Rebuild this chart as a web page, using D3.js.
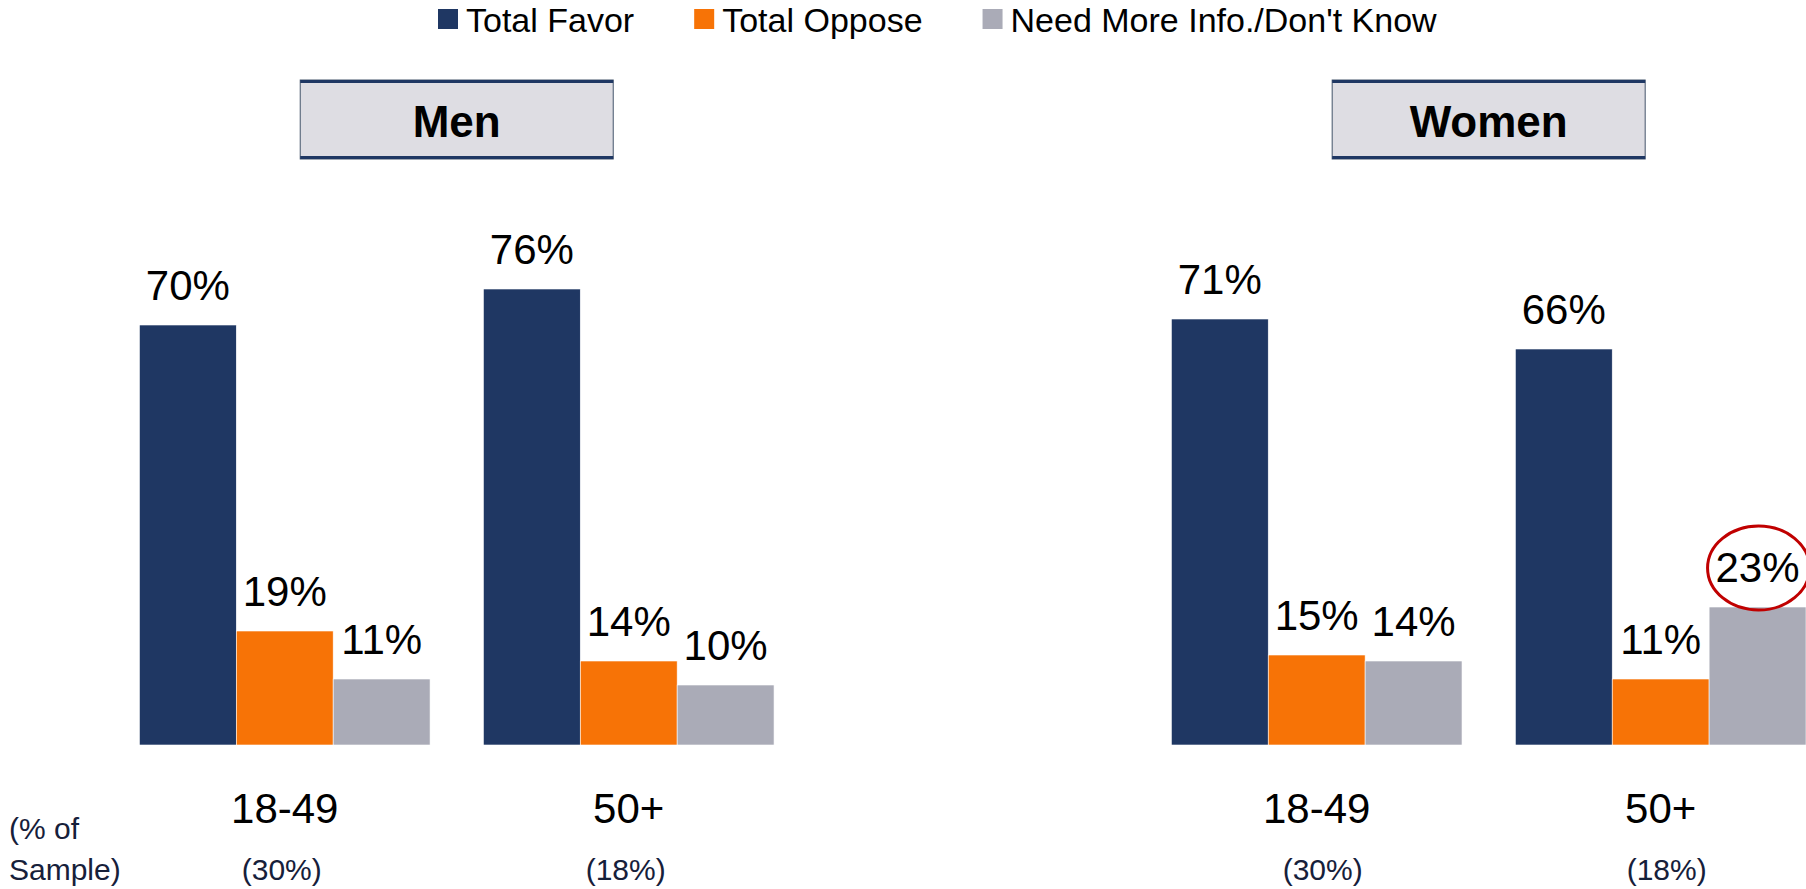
<!DOCTYPE html>
<html><head><meta charset="utf-8">
<script src="https://cdn.jsdelivr.net/npm/d3@7"></script>
<style>
body{margin:0;background:#fff}
svg{display:block}
text{font-family:"Liberation Sans",Arial,sans-serif}
</style>
</head><body>
<svg id="chart" width="1806" height="889"></svg>
<script>
// ---- data ----
const panels = ["Men", "Women"];
const ageGroups = ["18-49", "50+"];
const series = ["Total Favor", "Total Oppose", "Need More Info./Don't Know"];
const menFavor = [70, 76];
const menOppose = [19, 14];
const menDontKnow = [11, 10];
const womenFavor = [71, 66];
const womenOppose = [15, 11];
const womenDontKnow = [14, 23];
const menSample = ["(30%)", "(18%)"];
const womenSample = ["(30%)", "(18%)"];
const sampleNote = ["(% of", "Sample)"];
const highlight = {panel: "Women", age: "50+", series: "Need More Info./Don't Know"};

const colors = ["#1f3763", "#f77306", "#aaabb7"];

const valuesByPanel = {
  Men: [menFavor, menOppose, menDontKnow],
  Women: [womenFavor, womenOppose, womenDontKnow]
};
const sampleByPanel = {Men: menSample, Women: womenSample};

const rows = [];
panels.forEach(p => ageGroups.forEach((a, ai) => series.forEach((s, si) => {
  rows.push({panel: p, age: a, series: s, value: valuesByPanel[p][si][ai]});
})));

// ---- scales ----
const svg = d3.select("#chart");
const x0 = d3.scaleBand().domain(panels).range([139.4, 1806]).paddingInner(0.385).paddingOuter(0);
const x1 = d3.scaleBand().domain(ageGroups).range([0, x0.bandwidth()]).paddingInner(0.155).paddingOuter(0);
const x2 = d3.scaleBand().domain(series).range([0, x1.bandwidth()]).padding(0);
const y = d3.scaleLinear().domain([0, 100]).range([745, 145]);
const color = d3.scaleOrdinal().domain(series).range(colors);

// ---- legend ----
const legend = svg.append("g");
let lx = 438;
series.forEach(s => {
  const g = legend.append("g");
  g.append("rect").attr("x", lx).attr("y", 9).attr("width", 20).attr("height", 20).attr("fill", color(s));
  const t = g.append("text").attr("x", lx + 28).attr("y", 31.5).attr("font-size", 34).attr("fill", "#000").text(s);
  lx = lx + 28 + t.node().getComputedTextLength() + 60;
});

// ---- panel title boxes ----
panels.forEach(p => {
  const cx = x0(p) + x0.bandwidth() / 2;
  const bw = 313, top = 80, bh = 79;
  const g = svg.append("g");
  g.append("rect").attr("x", cx - bw / 2).attr("y", top).attr("width", bw).attr("height", bh)
    .attr("fill", "#dedde3").attr("stroke", "#44546a").attr("stroke-width", 1);
  g.append("rect").attr("x", cx - bw / 2).attr("y", top).attr("width", bw).attr("height", 3).attr("fill", "#1f3763");
  g.append("rect").attr("x", cx - bw / 2).attr("y", top + bh - 3).attr("width", bw).attr("height", 3).attr("fill", "#1f3763");
  g.append("text").attr("x", cx).attr("y", 137).attr("text-anchor", "middle")
    .attr("font-size", 44).attr("font-weight", "bold").attr("fill", "#000").text(p);
});

// ---- bars ----
const barX = d => x0(d.panel) + x1(d.age) + x2(d.series);
svg.append("g").selectAll("rect").data(rows).join("rect")
  .attr("x", barX)
  .attr("y", d => y(d.value))
  .attr("width", x2.bandwidth())
  .attr("height", d => y(0) - y(d.value))
  .attr("fill", d => color(d.series))
  .attr("stroke", "#ffffff").attr("stroke-width", 0.6);

// ---- value labels ----
svg.append("g").selectAll("text").data(rows).join("text")
  .attr("x", d => barX(d) + x2.bandwidth() / 2)
  .attr("y", d => y(d.value) - 25)
  .attr("text-anchor", "middle")
  .attr("font-size", 42)
  .attr("fill", "#000")
  .text(d => d.value + "%");

// ---- highlight ellipse ----
const hd = rows.find(d => d.panel === highlight.panel && d.age === highlight.age && d.series === highlight.series);
svg.append("ellipse")
  .attr("cx", barX(hd) + x2.bandwidth() / 2 + 1)
  .attr("cy", y(hd.value) - 25 - 14)
  .attr("rx", 51).attr("ry", 42)
  .attr("fill", "none").attr("stroke", "#c00000").attr("stroke-width", 3);

// ---- category axes ----
panels.forEach(p => {
  const axis = d3.axisBottom(x1).tickSize(0).tickPadding(48);
  const g = svg.append("g").attr("transform", `translate(${x0(p)},${y(0)})`).call(axis);
  g.select(".domain").remove();
  g.selectAll(".tick text").attr("font-size", 42).attr("fill", "#000")
    .attr("font-family", '"Liberation Sans",Arial,sans-serif');
  // sample share
  ageGroups.forEach((a, i) => {
    svg.append("text")
      .attr("x", x0(p) + x1(a) + x1.bandwidth() / 2 + (p === "Men" ? -3 : 6))
      .attr("y", 880)
      .attr("text-anchor", "middle")
      .attr("font-size", 30)
      .attr("fill", "#16203a")
      .text(sampleByPanel[p][i]);
  });
});

// ---- sample note ----
sampleNote.forEach((t, i) => {
  svg.append("text").attr("x", 9).attr("y", 839 + i * 41)
    .attr("font-size", 30).attr("fill", "#16203a").text(t);
});
</script>
</body></html>
